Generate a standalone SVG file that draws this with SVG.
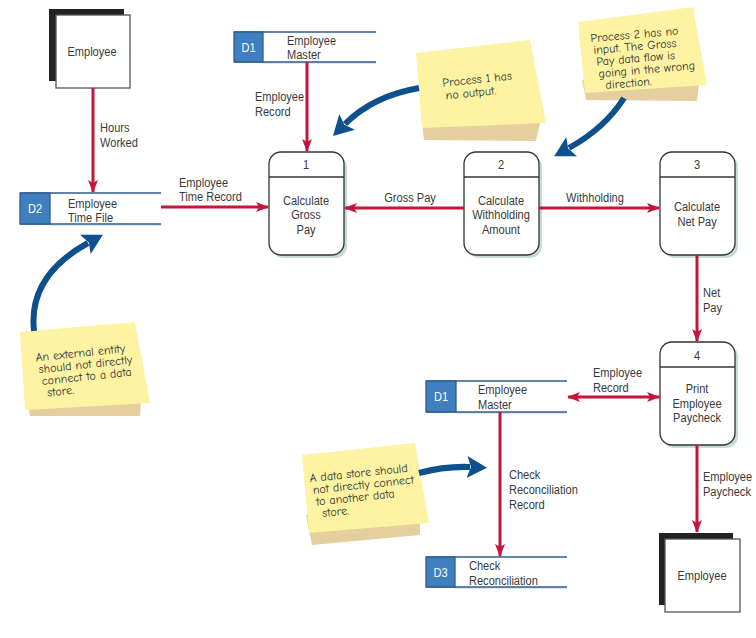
<svg xmlns="http://www.w3.org/2000/svg" width="756" height="638" viewBox="0 0 756 638">
<style>
.t{font-family:"Liberation Sans",Arial,sans-serif;font-size:13.5px;fill:#3a3a3a;transform-box:fill-box;transform-origin:0% 50%;transform:scaleX(0.82)}
.c{text-anchor:middle;transform-origin:50% 50%}
.w{fill:#ffffff}
.h{font-family:"Comic Neue","DejaVu Sans","Liberation Sans",sans-serif;font-size:12px;fill:#333}
.proc{fill:#fff;stroke:#333;stroke-width:1.3}
.psh{fill:#c6dada}
.ent{fill:#fff;stroke:#555;stroke-width:1.3}
.flow{fill:none;stroke:#c4163a;stroke-width:3}
.sl{stroke:#2f5d8a;stroke-width:1.5}
.sbox{fill:#3f7fc0;stroke:#2f5d8a;stroke-width:1.3}
.note{fill:#fdf3a3}
.nsh{fill:#e6cf9e}
.barrow{fill:none;stroke:#0e4f8e;stroke-width:6}
</style>
<defs>
<marker id="ra" markerUnits="userSpaceOnUse" markerWidth="14" markerHeight="12" viewBox="0 -6 14 12" refX="12" refY="0" orient="auto">
<path d="M0,-5 L13,0 L0,5 L3,0 z" fill="#c4163a"/>
</marker>
<marker id="rs" markerUnits="userSpaceOnUse" markerWidth="14" markerHeight="12" viewBox="0 -6 14 12" refX="12" refY="0" orient="auto-start-reverse">
<path d="M0,-5 L13,0 L0,5 L3,0 z" fill="#c4163a"/>
</marker>
<marker id="ba" markerUnits="userSpaceOnUse" markerWidth="22" markerHeight="24" viewBox="0 -12 22 24" refX="3" refY="0" orient="auto">
<path d="M0,-11 L20,0 L0,11 L4,0 z" fill="#0e4f8e"/>
</marker>
</defs>

<!-- sticky notes -->
<g id="note1">
<polygon class="nsh" points="421,116 543,110 536,141 424,140"/>
<polygon class="note" points="416,53 530,40 546,123 422,128"/>
<g transform="rotate(-6 470 88)">
<text class="h" x="443" y="84">Process 1 has</text>
<text class="h" x="445" y="97">no output.</text>
</g>
</g>
<g id="note2">
<polygon class="nsh" points="582,80 700,76 697,101 586,100"/>
<polygon class="note" points="578,22 693,7 707,85 585,93"/>
<g transform="rotate(-5 640 55)">
<text class="h" x="592" y="38">Process 2 has no</text>
<text class="h" x="594" y="50">input. The Gross</text>
<text class="h" x="596" y="62">Pay data flow is</text>
<text class="h" x="597" y="74">going in the wrong</text>
<text class="h" x="603" y="86">direction.</text>
</g>
</g>
<g id="note4">
<polygon class="nsh" points="26,390 142,385 140,416 30,416"/>
<polygon class="note" points="20,332 135,322 150,403 25,410"/>
<g transform="rotate(-6 80 370)">
<text class="h" x="37" y="357">An external entity</text>
<text class="h" x="39" y="369">should not directly</text>
<text class="h" x="41" y="381">connect to a data</text>
<text class="h" x="45" y="393">store.</text>
</g>
</g>
<g id="note3">
<polygon class="nsh" points="306,515 420,510 420,535 312,545"/>
<polygon class="note" points="302,455 415,443 429,523 309,533"/>
<g transform="rotate(-6 360 490)">
<text class="h" x="311" y="477">A data store should</text>
<text class="h" x="313" y="489">not directly connect</text>
<text class="h" x="315" y="501">to another data</text>
<text class="h" x="320" y="513">store.</text>
</g>
</g>

<!-- entities -->
<g id="employee-top">
<rect x="49" y="9" width="75" height="72" fill="#222"/>
<rect class="ent" x="56" y="15" width="74" height="73"/>
<text class="t c" x="92" y="56">Employee</text>
</g>
<g id="employee-bottom">
<rect x="659" y="533" width="74" height="72" fill="#222"/>
<rect class="ent" x="665" y="539" width="75" height="73"/>
<text class="t c" x="702" y="580">Employee</text>
</g>

<!-- data stores -->
<g id="d1-top">
<line x1="263" y1="63" x2="376" y2="63" stroke="#dde6ea" stroke-width="2"/>
<rect x="234" y="32" width="142" height="30" fill="#fff"/>
<line class="sl" x1="234" y1="32" x2="376" y2="32"/>
<line class="sl" x1="234" y1="62" x2="376" y2="62"/>
<rect class="sbox" x="234" y="32" width="29" height="30"/>
<text class="t c w" x="248.5" y="52">D1</text>
<text class="t" x="287" y="45">Employee</text>
<text class="t" x="287" y="59">Master</text>
</g>
<g id="d2">
<line x1="50" y1="225" x2="161" y2="225" stroke="#dde6ea" stroke-width="2"/>
<line class="sl" x1="20" y1="193" x2="161" y2="193"/>
<line class="sl" x1="20" y1="224" x2="161" y2="224"/>
<rect class="sbox" x="20" y="193" width="30" height="31"/>
<text class="t c w" x="35" y="213">D2</text>
<text class="t" x="68" y="208">Employee</text>
<text class="t" x="68" y="222">Time File</text>
</g>
<g id="d1-bottom">
<line x1="456" y1="413" x2="567" y2="413" stroke="#dde6ea" stroke-width="2"/>
<line class="sl" x1="426" y1="381" x2="567" y2="381"/>
<line class="sl" x1="426" y1="412" x2="567" y2="412"/>
<rect class="sbox" x="426" y="381" width="30" height="31"/>
<text class="t c w" x="441" y="401">D1</text>
<text class="t" x="478" y="394">Employee</text>
<text class="t" x="478" y="409">Master</text>
</g>
<g id="d3">
<line x1="455" y1="588" x2="567" y2="588" stroke="#dde6ea" stroke-width="2"/>
<line class="sl" x1="426" y1="557" x2="567" y2="557"/>
<line class="sl" x1="426" y1="587" x2="567" y2="587"/>
<rect class="sbox" x="426" y="557" width="29" height="30"/>
<text class="t c w" x="440.5" y="577">D3</text>
<text class="t" x="469" y="570">Check</text>
<text class="t" x="469" y="585">Reconciliation</text>
</g>

<!-- processes -->
<g id="p1">
<rect class="psh" x="272" y="155" width="75" height="103" rx="12"/>
<rect class="proc" x="269" y="152" width="75" height="103" rx="12"/>
<line x1="269" y1="177" x2="344" y2="177" stroke="#333" stroke-width="1.3"/>
<text class="t c" x="306" y="169">1</text>
<text class="t c" x="306" y="205">Calculate</text>
<text class="t c" x="306" y="219">Gross</text>
<text class="t c" x="306" y="234">Pay</text>
</g>
<g id="p2">
<rect class="psh" x="467" y="155" width="75" height="103" rx="12"/>
<rect class="proc" x="464" y="152" width="75" height="103" rx="12"/>
<line x1="464" y1="177" x2="539" y2="177" stroke="#333" stroke-width="1.3"/>
<text class="t c" x="501" y="169">2</text>
<text class="t c" x="501" y="205">Calculate</text>
<text class="t c" x="501" y="219">Withholding</text>
<text class="t c" x="501" y="234">Amount</text>
</g>
<g id="p3">
<rect class="psh" x="663" y="155" width="75" height="103" rx="12"/>
<rect class="proc" x="660" y="152" width="75" height="103" rx="12"/>
<line x1="660" y1="177" x2="735" y2="177" stroke="#333" stroke-width="1.3"/>
<text class="t c" x="697" y="169">3</text>
<text class="t c" x="697" y="211">Calculate</text>
<text class="t c" x="697" y="226">Net Pay</text>
</g>
<g id="p4">
<rect class="psh" x="663" y="345" width="75" height="103" rx="12"/>
<rect class="proc" x="660" y="342" width="75" height="103" rx="12"/>
<line x1="660" y1="367" x2="735" y2="367" stroke="#333" stroke-width="1.3"/>
<text class="t c" x="697" y="360">4</text>
<text class="t c" x="697" y="393">Print</text>
<text class="t c" x="697" y="408">Employee</text>
<text class="t c" x="697" y="422">Paycheck</text>
</g>

<!-- connectors -->
<g id="connectors">
<line class="flow" x1="93" y1="88" x2="93" y2="192" marker-end="url(#ra)"/>
<text class="t" x="100" y="132">Hours</text>
<text class="t" x="100" y="147">Worked</text>
<line class="flow" x1="161" y1="207" x2="268" y2="207" marker-end="url(#ra)"/>
<text class="t" x="179" y="187">Employee</text>
<text class="t" x="179" y="201">Time Record</text>
<line class="flow" x1="307" y1="62" x2="307" y2="151" marker-end="url(#ra)"/>
<text class="t" x="255" y="101">Employee</text>
<text class="t" x="255" y="116">Record</text>
<line class="flow" x1="464" y1="208" x2="345" y2="208" marker-end="url(#ra)"/>
<text class="t c" x="410" y="202">Gross Pay</text>
<line class="flow" x1="539" y1="208" x2="659" y2="208" marker-end="url(#ra)"/>
<text class="t c" x="595" y="202">Withholding</text>
<line class="flow" x1="697" y1="255" x2="697" y2="341" marker-end="url(#ra)"/>
<text class="t" x="703" y="297">Net</text>
<text class="t" x="703" y="312">Pay</text>
<line class="flow" x1="568" y1="397" x2="659" y2="397" marker-start="url(#rs)" marker-end="url(#ra)"/>
<text class="t" x="593" y="377">Employee</text>
<text class="t" x="593" y="392">Record</text>
<line class="flow" x1="500" y1="412" x2="500" y2="556" marker-end="url(#ra)"/>
<text class="t" x="509" y="479">Check</text>
<text class="t" x="509" y="494">Reconciliation</text>
<text class="t" x="509" y="509">Record</text>
<line class="flow" x1="697" y1="445" x2="697" y2="532" marker-end="url(#ra)"/>
<text class="t" x="703" y="481">Employee</text>
<text class="t" x="703" y="496">Paycheck</text>

<path class="barrow" d="M419,88 Q373,96 345,124" marker-end="url(#ba)"/>
<path class="barrow" d="M624,98 Q605,128 569,148" marker-end="url(#ba)"/>
<path class="barrow" d="M34,331 C30,295 48,265 88,243" marker-end="url(#ba)"/>
<path class="barrow" d="M419,473 Q445,466 470,467" marker-end="url(#ba)"/>
</g>
</svg>
